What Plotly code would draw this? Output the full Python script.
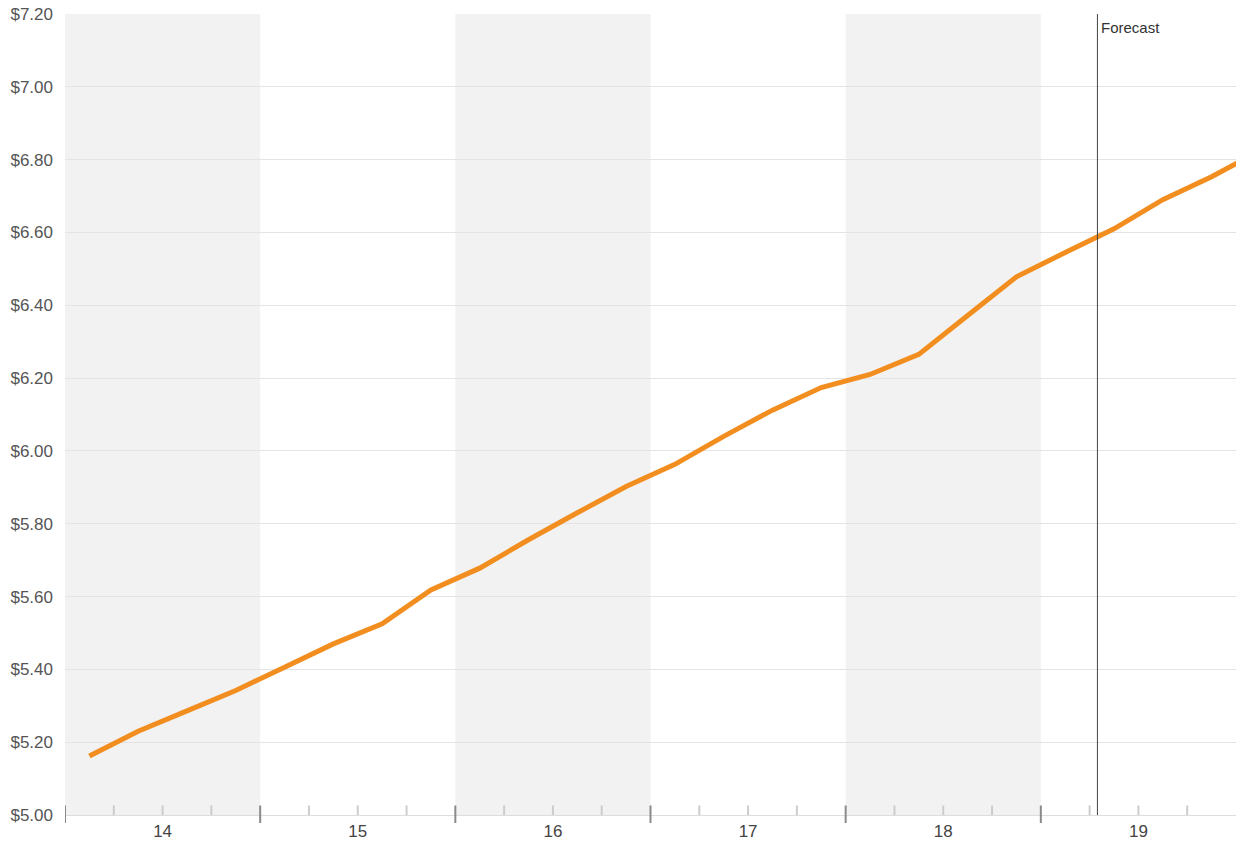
import plotly.graph_objects as go

# ---- data ----
years = [2014, 2015, 2016, 2017, 2018, 2019, 2020]
year_labels = ["14", "15", "16", "17", "18", "19"]
quarter_offsets = [0.125, 0.375, 0.625, 0.875]
values = [
    5.162, 5.230, 5.286, 5.342,
    5.406, 5.470, 5.525, 5.618,
    5.678, 5.756, 5.830, 5.902,
    5.963, 6.040, 6.112, 6.174,
    6.210, 6.265, 6.372, 6.478,
    6.545, 6.610, 6.690, 6.753,
    6.825,
]
forecast_x = 2019.29
shaded_years = [2014, 2016, 2018]

x = [years[i // 4] + quarter_offsets[i % 4] for i in range(len(values))]

fig = go.Figure()
fig.add_trace(go.Scatter(
    x=x, y=values, mode="lines",
    line=dict(color="#F28E1F", width=5),
    hoverinfo="skip", showlegend=False,
))

shapes = []
for y0 in shaded_years:
    shapes.append(dict(type="rect", xref="x", yref="paper", x0=y0, x1=y0 + 1,
                       y0=0, y1=1, fillcolor="#F2F2F2", line=dict(width=0),
                       layer="below"))

# axis ticks (quarter boundaries)
n_q = int((years[-1] - years[0]) * 4)
for k in range(n_q):
    q = years[0] + k * 0.25
    if k % 4 == 0:
        shapes.append(dict(type="line", xref="x", yref="paper", ysizemode="pixel",
                           yanchor=0, x0=q, x1=q, y0=-8, y1=9.5,
                           line=dict(color="#8A8A8A", width=2), layer="above"))
    else:
        shapes.append(dict(type="line", xref="x", yref="paper", ysizemode="pixel",
                           yanchor=0, x0=q, x1=q, y0=0, y1=9.5,
                           line=dict(color="#CCCCCC", width=2), layer="above"))

shapes.append(dict(type="line", xref="x", yref="paper", x0=forecast_x, x1=forecast_x,
                   y0=0, y1=1, line=dict(color="#444444", width=1), layer="above"))

fig.update_layout(
    width=1236, height=841,
    margin=dict(l=65, r=0, t=14, b=26),
    paper_bgcolor="white", plot_bgcolor="white",
    font=dict(family="Liberation Sans, Arial, sans-serif"),
    shapes=shapes,
    annotations=[dict(x=forecast_x, y=1, xref="x", yref="paper", text="Forecast",
                      showarrow=False, xanchor="left", yanchor="top",
                      xshift=2, yshift=-3,
                      font=dict(size=15, color="#333333"))],
    xaxis=dict(
        range=[years[0], years[-1]],
        tickvals=[y + 0.5 for y in years[:-1]],
        ticktext=year_labels,
        ticks="", showgrid=False, zeroline=False,
        showline=True, linecolor="#DDDDDD", linewidth=1,
        tickfont=dict(size=17, color="#444444"),
        ticklabelstandoff=1,
    ),
    yaxis=dict(
        range=[5.0, 7.2], dtick=0.2, tick0=5.0,
        tickprefix="$", tickformat=".2f",
        showgrid=True, gridcolor="#E4E4E4", gridwidth=1,
        zeroline=False, showline=False, ticks="",
        tickfont=dict(size=17, color="#555555"),
        ticklabelstandoff=11,
    ),
)

fig.write_html("out.html")
